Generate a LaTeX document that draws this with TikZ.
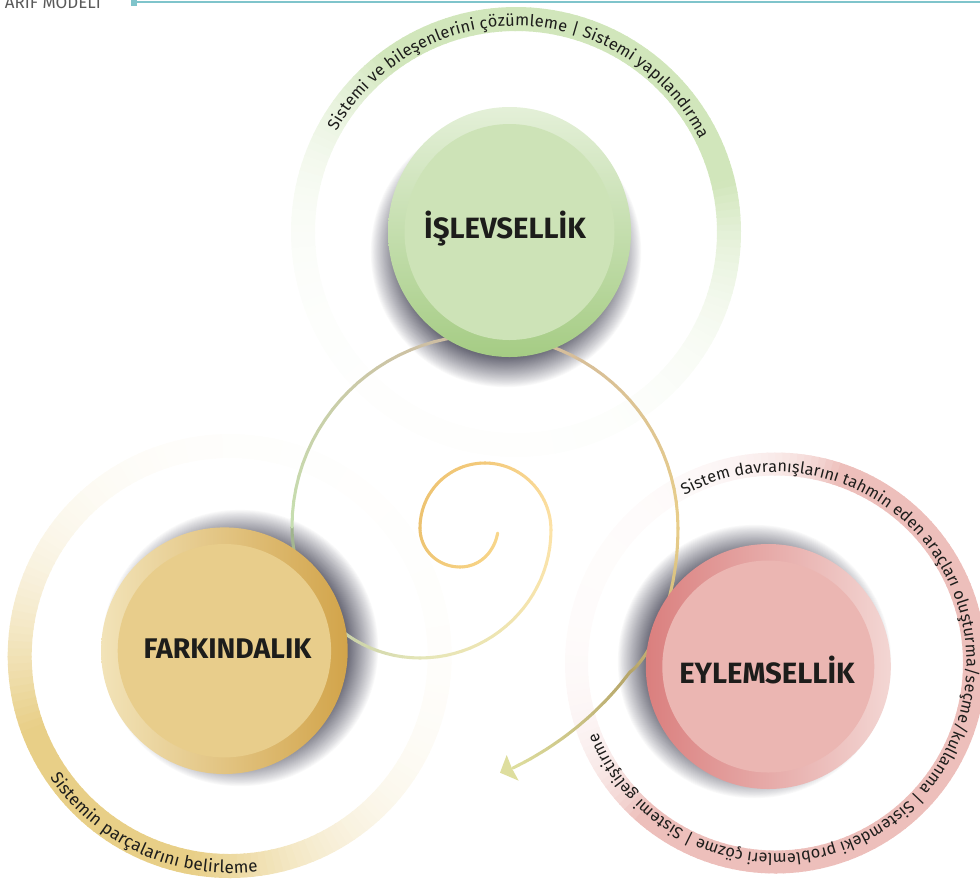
\documentclass[tikz,border=0pt]{standalone}
\usepackage{fontspec}
\setmainfont{Fira Sans}
\usetikzlibrary{decorations.text}
\definecolor{inkc}{HTML}{1D1D1B}
\definecolor{greyc}{HTML}{5A5A5A}
\definecolor{tealc}{HTML}{7FC4CB}
\definecolor{ringgreen}{HTML}{D1E6BB}
\definecolor{ringorange}{HTML}{E8CF87}
\definecolor{ringpink}{HTML}{EDBFBB}
\definecolor{shadowc}{HTML}{666674}
\definecolor{gtop}{HTML}{E4F0D8}\definecolor{gbot}{HTML}{A5CC84}\definecolor{ginner}{HTML}{CDE3B7}
\definecolor{oleft}{HTML}{F2E3B8}\definecolor{oright}{HTML}{D2A44A}\definecolor{oinner}{HTML}{E8CD8B}
\definecolor{pleft}{HTML}{DA7F7E}\definecolor{pright}{HTML}{F3D6D3}\definecolor{pinner}{HTML}{EBB6B2}
\definecolor{sa}{HTML}{F8D78C}\definecolor{sb}{HTML}{F5CF80}\definecolor{sc}{HTML}{ECC270}
\definecolor{sd}{HTML}{F3C97A}\definecolor{se}{HTML}{FDE3A8}\definecolor{sf}{HTML}{E5E6B8}
\definecolor{sg}{HTML}{C6DFB0}\definecolor{sh}{HTML}{CFB8A0}\definecolor{si}{HTML}{E8CD8A}
\definecolor{sj}{HTML}{DEDE9E}\definecolor{sk}{HTML}{B5A468}
% cx cy r width colour phi k c0
\newcommand\gradring[8]{%
  \foreach \t in {0,2,...,358}{%
    \pgfmathsetmacro\p{min(100,100*exp(#7*(cos(\t+1-#6)-(#8))))}%
    \draw[line width=#4*0.75pt,#5!\p!white] ([shift={(#1,#2)}]\t:#3) arc[start angle=\t,end angle=\t+2.4,radius=#3];
  }}
\newcommand\softshadow[3]{%
  \foreach \i in {0,...,36}{%
    \pgfmathsetmacro\r{#3*(1-0.23*\i/36)}%
    \pgfmathsetmacro\p{100*(\i/36)^0.9}%
    \fill[shadowc!\p!white] (#1,#2) circle[radius=\r];
  }}
\newcommand\bezgrad[8]{\def\cola{#7}\def\colb{#8}\bezgradii{#1}{#2}{#3}{#4}{#5}{#6}}
\newcommand\bezgradii[6]{\def\bezA{#1}\def\bezB{#2}\def\bezC{#3}\def\bezD{#4}\def\bezE{#5}\def\bezF{#6}\bezgradiii}
\newcommand\bezgradiii[2]{%
  \foreach \i in {1,...,24}{%
    \pgfmathsetmacro\ta{(\i-1)/24}\pgfmathsetmacro\tb{\i/24}\pgfmathsetmacro\p{100*(\i-0.5)/24}%
    \pgfmathsetmacro\xa{(1-\ta)^3*\bezA+3*(1-\ta)^2*\ta*\bezC+3*(1-\ta)*\ta^2*\bezE+\ta^3*#1}%
    \pgfmathsetmacro\ya{(1-\ta)^3*\bezB+3*(1-\ta)^2*\ta*\bezD+3*(1-\ta)*\ta^2*\bezF+\ta^3*#2}%
    \pgfmathsetmacro\xb{(1-\tb)^3*\bezA+3*(1-\tb)^2*\tb*\bezC+3*(1-\tb)*\tb^2*\bezE+\tb^3*#1}%
    \pgfmathsetmacro\yb{(1-\tb)^3*\bezB+3*(1-\tb)^2*\tb*\bezD+3*(1-\tb)*\tb^2*\bezF+\tb^3*#2}%
    \draw[spiralline,\colb!\p!\cola] (\xa,\ya) -- (\xb,\yb);
  }}
\tikzset{
  spiralline/.style={line width=2.3pt,line cap=round},
  headlabel/.style={text=inkc,anchor=base,inner sep=0pt},
}
\begin{document}
\begin{tikzpicture}[x=0.75pt,y=0.75pt]
\useasboundingbox (0,0) rectangle (980,-883);
\clip (0,0) rectangle (980,-883);
% header
\node[font=\fontsize{12.7}{14}\selectfont,text=greyc,anchor=base east,inner sep=0pt] (title) at (101,-8) {ARIF MODELI};
\fill[tealc] (131,0) rectangle (137,-5.5);
\draw[tealc,line width=1.1pt] (131,-2) -- (980,-2);
% rings
\gradring{516}{-232}{213}{24}{ringgreen}{70}{2.46}{0.55}
\gradring{229.7}{-656}{210}{24}{ringorange}{230}{2.2}{0.87}
\gradring{775.5}{-663}{199}{23}{ringpink}{330}{3.7}{-0.2}
% shadows
\softshadow{506}{-252}{136}
\softshadow{240}{-648}{139}
\softshadow{754.5}{-661.5}{137.5}
% spiral
\bezgrad{497.7}{-533}{494}{-553}{479}{-567}{sa}{sb}{460}{-567}
\bezgrad{460}{-567}{438}{-567}{420}{-550}{sb}{sc}{420}{-528}
\bezgrad{420}{-528}{420}{-492}{449}{-463}{sc}{sd}{485}{-463}
\bezgrad{485}{-463}{521}{-463}{551}{-493}{sd}{se}{551}{-530}
\bezgrad{551}{-530}{551}{-601}{491}{-658}{se}{sf}{420}{-658}
\bezgrad{420}{-658}{349}{-658}{292}{-600}{sf}{sg!80!black}{292}{-527}
\bezgrad{292}{-527}{292}{-421}{379}{-335}{sg}{sh}{485}{-335}
\bezgrad{485}{-335}{592}{-335}{678}{-421}{sh}{si}{678}{-528}
\bezgrad{678}{-528}{678}{-604}{648}{-660}{si}{sk}{630}{-672}
\bezgrad{630}{-672}{600}{-712}{560}{-745}{sk}{sj}{513}{-768}
\coordinate (tip) at (500,-772.7);
\coordinate (wingA) at (506.7,-755);
\coordinate (wingB) at (518.7,-780.7);
\fill[sj] (tip) -- (wingA) -- (512,-768.5) -- (wingB) -- cycle;
% circles
\shade[top color=gtop,bottom color=gbot] (509.5,-232) ellipse[x radius=121.5,y radius=125];
\fill[ginner] (509.5,-232) ellipse[x radius=105,y radius=108];
\node[headlabel,font=\fontsize{22}{24}\selectfont\bfseries] (isl) at (505,-238) {İŞLEVSELLİK};
\shade[left color=oleft,right color=oright] (224.4,-650.7) circle[radius=123.3];
\fill[oinner] (224.4,-650.7) circle[radius=106.7];
\node[headlabel,font=\fontsize{21.3}{24}\selectfont\bfseries] (far) at (227.5,-658) {FARKINDALIK};
\shade[left color=pleft,right color=pright] (768.3,-666.5) circle[radius=122.5];
\fill[pinner] (768.3,-666.5) circle[radius=106];
\node[headlabel,font=\fontsize{22}{24}\selectfont\bfseries] (eyl) at (767,-683) {EYLEMSELLİK};
% ring texts
\path[decorate,decoration={text along path,text align={fit to path},text color=inkc,
  text={|\fontsize{12.3}{14}\selectfont|Sistemi ve bileşenlerini çözümleme {\textbar} Sistemi yapılandırma}}]
  ([shift={(516,-232)}]150.7:206) arc[start angle=150.7,end angle=26.8,radius=206];
\path[decorate,decoration={text along path,text align={fit to path},text color=inkc,
  text={|\fontsize{12.2}{14}\selectfont|Sistem davranışlarını tahmin eden araçları oluşturma/seçme/kullanma {\textbar} Sistemdeki problemleri çözme {\textbar} Sistemi geliştirme}}]
  ([shift={(775.5,-663)}]118.5:191) arc[start angle=118.5,end angle=-158.7,radius=191];
\path[decorate,decoration={text along path,text align={fit to path},text color=inkc,
  text={|\fontsize{12.8}{14}\selectfont|Sistemin parçalarını belirleme}}]
  ([shift={(229.7,-656)}]214:217) arc[start angle=214,end angle=277.5,radius=217];
\end{tikzpicture}
\end{document}
